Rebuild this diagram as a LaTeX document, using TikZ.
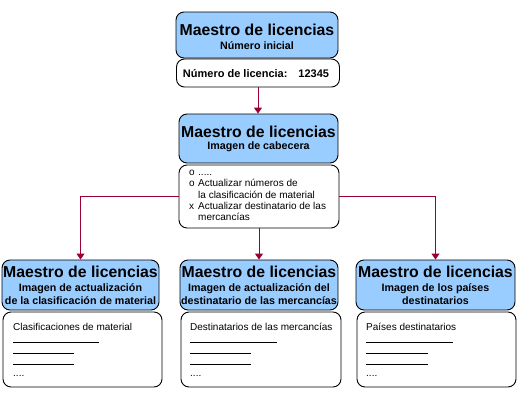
\documentclass[tikz,border=0pt]{standalone}
\usepackage{fontspec}
\setmainfont{Liberation Sans}
\usetikzlibrary{arrows.meta, positioning}
\definecolor{headblue}{HTML}{99CCFF}
\definecolor{linkred}{HTML}{990033}
\newcommand{\blankline}[1]{\rule{#1}{0.7pt}}
\tikzset{
  headbox/.style={draw=black, fill=headblue, rounded corners=8pt, line width=0.9pt, inner sep=0pt},
  detailbox/.style={draw=black, fill=white, rounded corners=8pt, line width=0.9pt, inner sep=0pt},
  titletext/.style={font=\fontsize{15.8}{17}\selectfont\bfseries, inner sep=0pt},
  subtext/.style={font=\fontsize{10.7}{13}\selectfont\bfseries, align=center, inner sep=0pt},
  listtext/.style={font=\fontsize{10}{11.3}\selectfont, align=left, anchor=north west, inner sep=0pt},
  link/.style={linkred, line width=1pt, -{Triangle[width=8pt,length=6pt]}}
}

\begin{document}
\begin{tikzpicture}[x=1pt, y=-1pt]
  \useasboundingbox (0,0) rectangle (527,407);

  % Initial number
  \node[headbox, minimum width=162pt, minimum height=46pt] (thead) at (257,35) {};
  \node[titletext] (ttitle) at (257,30) {Maestro de licencias};
  \node[subtext] (tsub) at (257,46) {Número inicial};
  \node[detailbox, minimum width=163pt, minimum height=28pt] (tdet) at (258,73) {};
  \node[font=\fontsize{11}{13}\selectfont\bfseries, inner sep=0pt] (tnum) at (256,74) {Número de licencia:\hspace{11pt}12345};

  % Header image
  \node[headbox, minimum width=159pt, minimum height=49pt] (chead) at (258.5,138.5) {};
  \node[titletext] (ctitle) at (258.5,132) {Maestro de licencias};
  \node[subtext] (csub) at (258.5,147) {Imagen de cabecera};
  \node[detailbox, minimum width=160pt, minimum height=63pt] (cdet) at (259,196.5) {};
  \node[listtext] (clist) at (189,170) {%
    \makebox[9pt][l]{o}.....\\
    \makebox[9pt][l]{o}Actualizar números de\\
    \makebox[9pt][l]{}la clasificación de material\\
    \makebox[9pt][l]{x}Actualizar destinatario de las\\
    \makebox[9pt][l]{}mercancías};

  % Material classification image
  \node[headbox, minimum width=157pt, minimum height=50pt] (lhead) at (80.5,285) {};
  \node[titletext] (ltitle) at (80.5,272) {Maestro de licencias};
  \node[subtext] (lsub) at (80.5,294.5) {Imagen de actualización\\de la clasificación de material};
  \node[detailbox, minimum width=159pt, minimum height=75pt] (ldet) at (82.5,349.5) {};
  \node[listtext] (llist) at (13,323) {%
    Clasificaciones de material\\[0.5pt]
    \blankline{86pt}\\
    \blankline{61pt}\\
    \blankline{61pt}\\
    ....};

  % Goods recipient image
  \node[headbox, minimum width=158pt, minimum height=50pt] (mhead) at (259,285) {};
  \node[titletext] (mtitle) at (259,272) {Maestro de licencias};
  \node[subtext] (msub) at (259,294.5) {Imagen de actualización del\\destinatario de las mercancías};
  \node[detailbox, minimum width=160pt, minimum height=75pt] (mdet) at (261,349.5) {};
  \node[listtext] (mlist) at (190,323) {%
    Destinatarios de las mercancías\\[0.5pt]
    \blankline{87pt}\\
    \blankline{61pt}\\
    \blankline{61pt}\\
    ....};

  % Destination countries image
  \node[headbox, minimum width=159pt, minimum height=50pt] (rhead) at (435.5,285) {};
  \node[titletext] (rtitle) at (435.5,272) {Maestro de licencias};
  \node[subtext] (rsub) at (435.5,294.5) {Imagen de los países\\destinatarios};
  \node[detailbox, minimum width=159pt, minimum height=75pt] (rdet) at (436.5,349.5) {};
  \node[listtext] (rlist) at (366,323) {%
    Países destinatarios\\[0.5pt]
    \blankline{87pt}\\
    \blankline{62pt}\\
    \blankline{62pt}\\
    ....};

  % Connectors
  \draw[link] (tdet.south) -- (tdet.south |- chead.north);
  \draw[link] (cdet.west) -| (lhead.north);
  \draw[link] (cdet.south) -- (cdet.south |- mhead.north);
  \draw[link] (cdet.east) -| (rhead.north);
\end{tikzpicture}
\end{document}
